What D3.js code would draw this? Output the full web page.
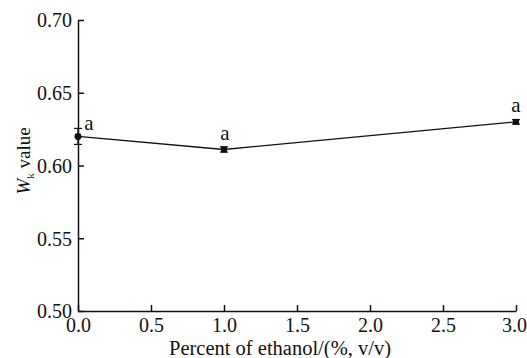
<!DOCTYPE html>
<html>
<head>
<meta charset="utf-8">
<script src="https://cdn.jsdelivr.net/npm/d3@7"></script>
<style>
  html, body { margin: 0; padding: 0; background: #fff; }
</style>
</head>
<body>
<svg id="chart" width="527" height="358"></svg>
<script>
// Ethanol percentage (x) vs Wk value with standard deviation
const ethanol = [0.0, 1.0, 3.0];
const wkValues = [0.620, 0.611, 0.630];
const wkErrors = [0.0055, 0.0018, 0.0015];
const sigLetters = ["a", "a", "a"];
const markerShapes = ["circle", "square", "square"];
const xTicks = [0.0, 0.5, 1.0, 1.5, 2.0, 2.5, 3.0];
const yTicks = [0.50, 0.55, 0.60, 0.65, 0.70];

const svg = d3.select("#chart");
const margin = { left: 78, right: 11, top: 20, bottom: 47 };
const W = 527, H = 358;
const serif = '"Liberation Serif", "Times New Roman", serif';

const x = d3.scaleLinear().domain([0, 3]).range([margin.left, W - margin.right]);
const y = d3.scaleLinear().domain([0.50, 0.70]).range([H - margin.bottom, margin.top]);

// Axes with inward ticks
const xAxis = d3.axisBottom(x).tickValues(xTicks).tickFormat(d3.format(".1f"))
  .tickSizeInner(-6).tickSizeOuter(0).tickPadding(7);
const yAxis = d3.axisLeft(y).tickValues(yTicks).tickFormat(d3.format(".2f"))
  .tickSizeInner(-6).tickSizeOuter(0).tickPadding(6);

const gx = svg.append("g").attr("transform", `translate(0,${y(0.50)})`).call(xAxis);
const gy = svg.append("g").attr("transform", `translate(${x(0)},0)`).call(yAxis);

[gx, gy].forEach(g => {
  g.attr("font-family", null).attr("font-size", null);
  g.selectAll("path, line").attr("stroke", "#111").attr("stroke-width", 1.5);
  g.selectAll("text")
    .style("font-family", serif)
    .style("font-size", "20px")
    .attr("fill", "#111");
});
gx.selectAll(".tick text").attr("dy", "0.7em");
// keep the last x label inside the canvas
gx.selectAll(".tick text").filter(d => d === 3.0).attr("dx", -2);
gy.selectAll(".tick text").attr("dy", "0.34em");

// Connecting line
const line = d3.line().x((d, i) => x(ethanol[i])).y(d => y(d));
svg.append("path").datum(wkValues)
  .attr("d", line).attr("fill", "none").attr("stroke", "#111").attr("stroke-width", 1.3);

// Error bars
const capW = 4;
const eb = svg.append("g").attr("stroke", "#111").attr("stroke-width", 1.2);
wkValues.forEach((v, i) => {
  const cx = x(ethanol[i]);
  const y1 = y(v + wkErrors[i]), y2 = y(v - wkErrors[i]);
  eb.append("line").attr("x1", cx).attr("x2", cx).attr("y1", y1).attr("y2", y2);
  eb.append("line").attr("x1", cx - capW).attr("x2", cx + capW).attr("y1", y1).attr("y2", y1);
  eb.append("line").attr("x1", cx - capW).attr("x2", cx + capW).attr("y1", y2).attr("y2", y2);
});

// Markers
wkValues.forEach((v, i) => {
  const cx = x(ethanol[i]), cy = y(v);
  const sym = markerShapes[i] === "circle" ? d3.symbolCircle : d3.symbolSquare;
  svg.append("path")
    .attr("d", d3.symbol().type(sym).size(markerShapes[i] === "circle" ? 38 : 36))
    .attr("transform", `translate(${cx},${cy})`)
    .attr("fill", "#111");
});

// Significance letters
const letterOffsets = [[11, -6], [1, -9], [0, -10]];
wkValues.forEach((v, i) => {
  svg.append("text")
    .attr("x", x(ethanol[i]) + letterOffsets[i][0])
    .attr("y", y(v) + letterOffsets[i][1])
    .attr("text-anchor", "middle")
    .style("font-family", serif)
    .style("font-size", "21px")
    .attr("fill", "#111")
    .text(sigLetters[i]);
});

// Axis titles
svg.append("text")
  .attr("x", 280)
  .attr("y", 355)
  .attr("text-anchor", "middle")
  .style("font-family", serif)
  .style("font-size", "20.5px")
  .attr("fill", "#111")
  .text("Percent of ethanol/(%, v/v)");

const yl = svg.append("text")
  .attr("transform", "translate(30,161) rotate(-90)")
  .attr("text-anchor", "middle")
  .style("font-family", serif)
  .style("font-size", "19px")
  .attr("fill", "#111");
yl.append("tspan").style("font-style", "italic").text("W");
yl.append("tspan").style("font-size", "11px").attr("dy", 4).text("k");
yl.append("tspan").attr("dy", -4).text(" value");
</script>
</body>
</html>
